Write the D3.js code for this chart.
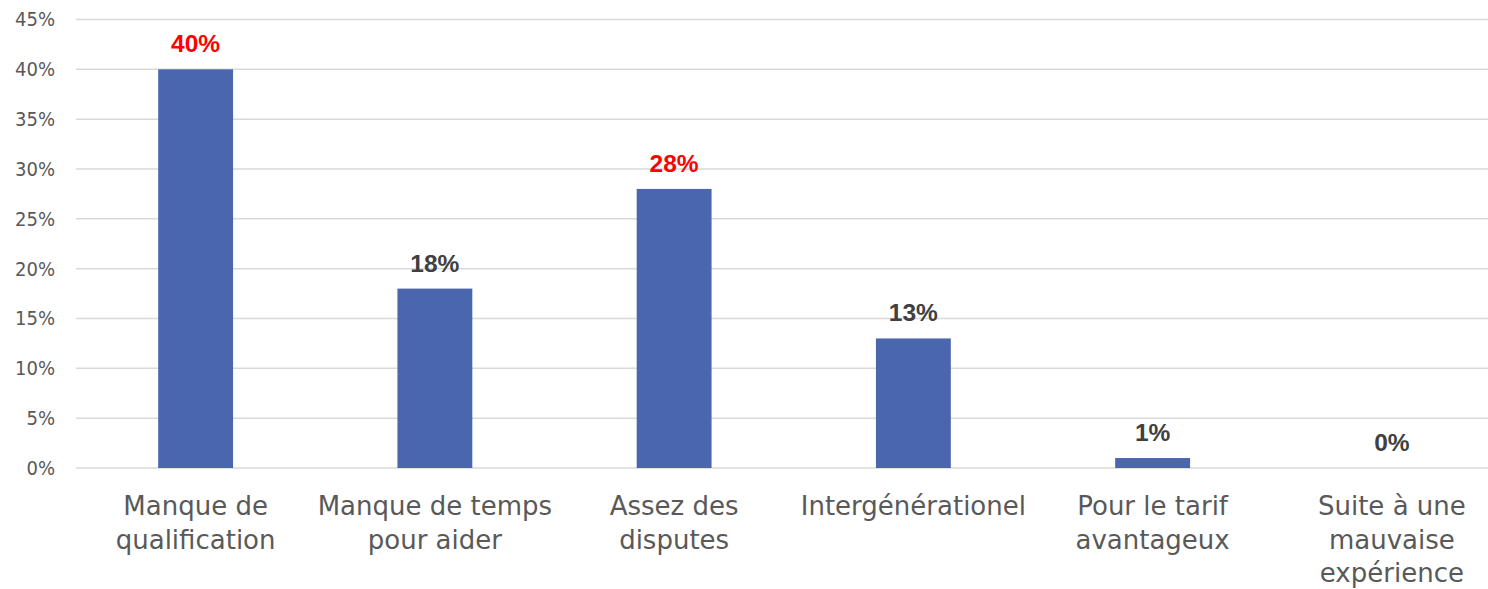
<!DOCTYPE html>
<html><head><meta charset="utf-8">
<script src="https://cdn.jsdelivr.net/npm/d3@7"></script>
<style>html,body{margin:0;padding:0;background:#fff;overflow:hidden}</style>
</head><body>
<svg id="c" width="1488" height="589"></svg>
<script>
const categories = [
  ["Manque de", "qualification"],
  ["Manque de temps", "pour aider"],
  ["Assez des", "disputes"],
  ["Intergénérationel"],
  ["Pour le tarif", "avantageux"],
  ["Suite à une", "mauvaise", "expérience"]
];
const values = [40, 18, 28, 13, 1, 0];
const labelColors = ["#ff0000", "#404040", "#ff0000", "#404040", "#404040", "#404040"];
const yTicks = [0, 5, 10, 15, 20, 25, 30, 35, 40, 45];

const svg = d3.select("#c");
const x = d3.scaleBand().domain(d3.range(categories.length)).range([76, 1511.5]).paddingInner(0.687).paddingOuter(0.3435);
const y = d3.scaleLinear().domain([0, 45]).range([468, 19.5]);

const tickFont = "'DejaVu Sans Condensed', 'DejaVu Sans', sans-serif";
const catFont = "'DejaVu Sans', sans-serif";

// gridlines
svg.append("g").selectAll("line").data(yTicks).join("line")
  .attr("x1", 76).attr("x2", 1488)
  .attr("y1", d => y(d)).attr("y2", d => y(d))
  .attr("stroke", "#d9d9d9").attr("stroke-width", 1.5);

// y axis labels
const yAxis = d3.axisLeft(y).tickValues(yTicks).tickFormat(d => d + "%").tickSize(0).tickPadding(0);
const ya = svg.append("g").attr("transform", "translate(55,0)").call(yAxis);
ya.select(".domain").remove();
ya.selectAll("text").attr("fill", "#595959").style("font-family", tickFont).style("font-size", "20px");

// bars
svg.append("g").selectAll("rect").data(values).join("rect")
  .attr("x", (d, i) => x(i)).attr("width", x.bandwidth())
  .attr("y", d => y(d)).attr("height", d => y(0) - y(d))
  .attr("fill", "#4a66ac");

// value labels
svg.append("g").selectAll("text").data(values).join("text")
  .attr("x", (d, i) => x(i) + x.bandwidth() / 2)
  .attr("y", d => y(d) - 17)
  .attr("text-anchor", "middle")
  .attr("fill", (d, i) => labelColors[i])
  .style("font-family", "'Liberation Sans', Arial, sans-serif")
  .style("font-weight", "bold").style("font-size", "24.5px")
  .text(d => d + "%");

// category labels
const cg = svg.append("g").selectAll("text").data(categories).join("text")
  .attr("x", (d, i) => x(i) + x.bandwidth() / 2)
  .attr("y", 515)
  .attr("text-anchor", "middle")
  .attr("fill", "#595959")
  .style("font-family", catFont).style("font-size", "26px");
cg.selectAll("tspan").data(d => d).join("tspan")
  .attr("x", function() { return d3.select(this.parentNode).attr("x"); })
  .attr("dy", (d, j) => j === 0 ? 0 : 33.5)
  .text(d => d);
</script>
</body></html>
